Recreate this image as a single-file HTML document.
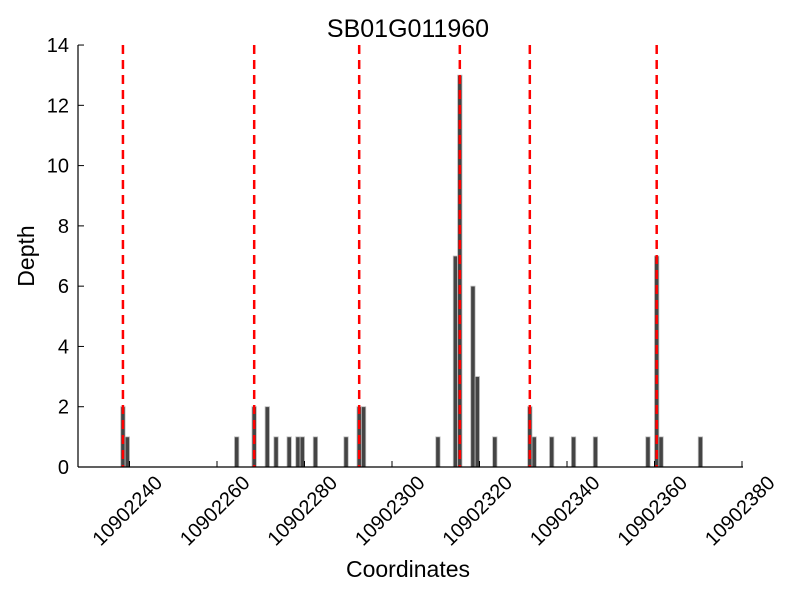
<!DOCTYPE html>
<html><head><meta charset="utf-8"><style>
body{margin:0;background:#fff;}
text{font-family:"Liberation Sans",sans-serif;fill:#000;}
</style></head><body>
<svg id="chart" width="800" height="600" xmlns="http://www.w3.org/2000/svg">
<text x="408" y="37" font-size="25" text-anchor="middle">SB01G011960</text>
<text x="408" y="577" font-size="23" text-anchor="middle">Coordinates</text>
<text x="34" y="256" font-size="23" text-anchor="middle" transform="rotate(-90 34 256)">Depth</text>
<g id="bars"></g>
<g id="vlines"></g>
<g id="axes"></g>
</svg>
<script>
const positions = [238,239,264,268,271,273,276,278,279,282,289,292,293,310,314,315,318,319,323,331,332,336,341,346,358,360,361,370];
const depths    = [2,1,1,2,2,1,1,1,1,1,1,2,2,1,7,13,6,3,1,2,1,1,1,1,1,7,1,1];
const markers   = [238.5,268.5,292.5,315.5,331.5,360.5];
const yTicks = [0,2,4,6,8,10,12,14];
const xTicks = [240,260,280,300,320,340,360,380];
const BASE = 10902000;

const NS="http://www.w3.org/2000/svg";
function xs(v){return 217+(v-260)*4.375;}
function ys(v){return 467-v*30.14;}
function mk(tag,attrs,parent){const e=document.createElementNS(NS,tag);for(const k in attrs)e.setAttribute(k,attrs[k]);parent.appendChild(e);return e;}
const bars=document.getElementById('bars'),vl=document.getElementById('vlines'),ax=document.getElementById('axes');
positions.forEach((p,i)=>{
  const r=mk('rect',{x:xs(p),y:ys(depths[i]),width:4.375,height:ys(0)-ys(depths[i]),fill:'#444',stroke:'#bbb','stroke-width':0.8},bars);
  
  
});
markers.forEach(m=>{
  const l=mk('line',{x1:xs(m),x2:xs(m),y1:ys(14),y2:ys(0),stroke:'#ff0000','stroke-width':2.5,'stroke-dasharray':'9,6'},vl);
  
  
});
const yl=mk('line',{x1:78,x2:78,y1:45,y2:467,stroke:'#000','stroke-width':1.2},ax);


const xl=mk('line',{x1:78,x2:743,y1:467,y2:467,stroke:'#000','stroke-width':1.2},ax);


yTicks.forEach(t=>{
  mk('line',{x1:78,x2:84,y1:ys(t),y2:ys(t),stroke:'#000'},ax);
  const tx=mk('text',{x:69,y:ys(t)+7,'font-size':20,'text-anchor':'end'},ax);
  tx.textContent=t;
  
  
});
xTicks.forEach(t=>{
  const x=xs(t);
  mk('line',{x1:x,x2:x,y1:467,y2:461,stroke:'#000'},ax);
  const ax0=x+34, ay0=484;
  const tx=mk('text',{x:ax0,y:ay0,'font-size':20,'text-anchor':'end',transform:`rotate(-45 ${ax0} ${ay0})`},ax);
  tx.textContent=BASE+t;
  
  
});
</script>
</body></html>
